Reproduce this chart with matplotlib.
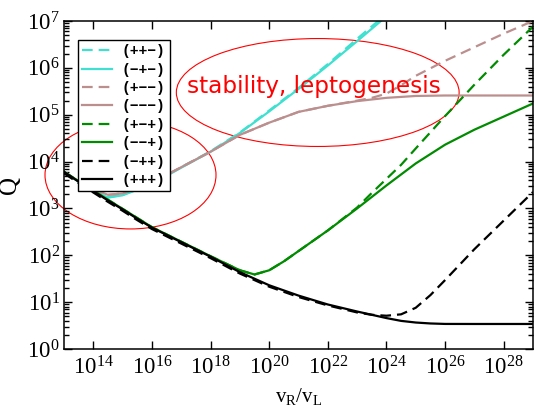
import numpy as np
import matplotlib
matplotlib.use("Agg")
import matplotlib.pyplot as plt
from matplotlib.patches import Ellipse
from matplotlib.ticker import FixedLocator, LogLocator, NullLocator, NullFormatter

plt.rcParams["font.family"] = ["Liberation Serif", "DejaVu Serif"]
plt.rcParams["mathtext.fontset"] = "custom"
plt.rcParams["mathtext.rm"] = "Liberation Serif"
plt.rcParams["mathtext.it"] = "Liberation Serif:italic"
plt.rcParams["mathtext.bf"] = "Liberation Serif:bold"

# log10(v_R / v_L) and log10(Q) for each sign combination
x_ppm = [13, 13.5, 14, 14.5, 15, 16, 17, 18, 19, 20, 21, 22, 23, 24]
q_ppm = [3.78, 3.57, 3.38, 3.24, 3.29, 3.53, 3.88, 4.22, 4.62, 5.09, 5.57, 6.08, 6.62, 7.15]

x_mpm = [13, 13.5, 14, 14.5, 15, 16, 17, 18, 19, 20, 21, 22, 23, 24]
q_mpm = [3.78, 3.57, 3.38, 3.23, 3.28, 3.52, 3.87, 4.21, 4.61, 5.07, 5.55, 6.05, 6.57, 7.1]

x_pmm = [13, 13.5, 14, 14.5, 15, 16, 17, 18, 19, 20, 21, 22, 23, 23.5, 24, 24.5, 25, 26, 27, 28, 29]
q_pmm = [3.78, 3.58, 3.41, 3.29, 3.32, 3.55, 3.88, 4.21, 4.57, 4.83, 5.06, 5.19, 5.30, 5.36, 5.45, 5.63, 5.83, 6.15, 6.44, 6.73, 7.0]

x_mmm = [13, 13.5, 14, 14.5, 15, 16, 17, 18, 19, 20, 21, 22, 23, 24, 25, 26, 27, 28, 29]
q_mmm = [3.78, 3.58, 3.41, 3.29, 3.32, 3.55, 3.88, 4.21, 4.57, 4.83, 5.06, 5.19, 5.29, 5.36, 5.40, 5.41, 5.41, 5.41, 5.41]

x_pmp = [13, 14, 15, 16, 17, 18, 18.5, 19, 19.5, 20, 20.5, 21, 22, 23, 23.5, 24, 24.5, 25, 26, 27, 28, 29]
q_pmp = [3.78, 3.38, 2.99, 2.60, 2.29, 1.98, 1.83, 1.68, 1.59, 1.68, 1.87, 2.09, 2.53, 3.02, 3.33, 3.63, 3.93, 4.28, 4.97, 5.64, 6.28, 6.88]

x_mmp = [13, 14, 15, 16, 17, 18, 18.5, 19, 19.5, 20, 20.5, 21, 22, 23, 24, 25, 26, 27, 28, 29]
q_mmp = [3.78, 3.38, 2.99, 2.60, 2.29, 1.98, 1.83, 1.68, 1.59, 1.68, 1.87, 2.09, 2.53, 3.0, 3.49, 3.96, 4.36, 4.68, 4.96, 5.24]

x_mpp = [13, 13.5, 14, 14.5, 15, 15.5, 16, 17, 18, 19, 20, 21, 22, 23, 23.5, 24, 24.5, 25, 25.5, 26, 26.5, 27, 28, 29]
q_mpp = [3.75, 3.54, 3.34, 3.14, 2.95, 2.75, 2.56, 2.25, 1.94, 1.61, 1.33, 1.11, 0.93, 0.78, 0.73, 0.71, 0.74, 0.88, 1.15, 1.47, 1.80, 2.13, 2.74, 3.35]

x_ppp = [13, 13.5, 14, 14.5, 15, 15.5, 16, 17, 18, 19, 20, 21, 22, 23, 24, 24.5, 25, 25.5, 26, 27, 28, 29]
q_ppp = [3.78, 3.57, 3.37, 3.17, 2.98, 2.78, 2.59, 2.28, 1.97, 1.64, 1.36, 1.14, 0.95, 0.80, 0.66, 0.60, 0.565, 0.545, 0.535, 0.534, 0.534, 0.534]

labels = ["(++\u2212)", "(\u2212+\u2212)", "(+\u2212\u2212)", "(\u2212\u2212\u2212)",
          "(+\u2212+)", "(\u2212\u2212+)", "(\u2212++)", "(+++)"]

turquoise = "#40E0D0"
rosy = "#BC8F8F"
green = "#008B00"
black = "#000000"

series = [
    (x_ppm, q_ppm, turquoise, True),
    (x_mpm, q_mpm, turquoise, False),
    (x_pmm, q_pmm, rosy, True),
    (x_mmm, q_mmm, rosy, False),
    (x_pmp, q_pmp, green, True),
    (x_mmp, q_mmp, green, False),
    (x_mpp, q_mpp, black, True),
    (x_ppp, q_ppp, black, False),
]

fig = plt.figure(figsize=(5.34, 4.08), dpi=100)
ax = fig.add_axes([64 / 534, 1 - 349 / 408, 469 / 534, 328 / 408])

for (xs, qs, col, dashed), lab in zip(series, labels):
    xv = 10.0 ** np.asarray(xs)
    qv = 10.0 ** np.asarray(qs)
    if dashed:
        ax.plot(xv, qv, color=col, lw=1.6, dashes=(4.8, 2.7), label=lab)
    else:
        ax.plot(xv, qv, color=col, lw=1.6, label=lab)

ax.set_xscale("log")
ax.set_yscale("log")
ax.set_xlim(1e13, 1e29)
ax.set_ylim(1e0, 1e7)

ax.xaxis.set_major_locator(FixedLocator([10.0 ** k for k in range(14, 29, 2)]))
ax.xaxis.set_minor_locator(NullLocator())
ax.yaxis.set_major_locator(FixedLocator([10.0 ** k for k in range(0, 8)]))
ax.yaxis.set_minor_locator(FixedLocator([m * 10.0 ** k for k in range(0, 7) for m in range(2, 10)]))
ax.yaxis.set_minor_formatter(NullFormatter())

ax.tick_params(which="both", direction="in", top=True, right=True, width=1.0)
ax.tick_params(which="major", length=6, labelsize=16.5)
ax.tick_params(axis="x", which="major", pad=5)
ax.tick_params(axis="y", which="major", pad=3)
ax.tick_params(which="minor", length=3.5)
for s in ax.spines.values():
    s.set_linewidth(1.1)

ax.set_ylabel("Q", fontsize=18, labelpad=4)
ax.set_xlabel(r"$\mathregular{v_R/v_L}$", fontsize=15, labelpad=5)

leg = ax.legend(loc="upper left", bbox_to_anchor=(14 / 469, 1 - 19 / 328),
                borderaxespad=0, frameon=True, fancybox=False, shadow=False,
                prop={"family": "Liberation Mono", "weight": "bold", "size": 10.5},
                handlelength=2.0, handletextpad=0.7, labelspacing=0.3,
                borderpad=0.3)
leg.get_frame().set_edgecolor("black")
leg.get_frame().set_linewidth(1.0)
leg.get_frame().set_alpha(1)

ax.add_patch(Ellipse((0.541, 0.782), 0.603, 0.329, transform=ax.transAxes,
                     fill=False, edgecolor="red", lw=0.8, clip_on=False))
ax.add_patch(Ellipse((0.1418, 0.5305), 0.3646, 0.329, transform=ax.transAxes,
                     fill=False, edgecolor="red", lw=0.8, clip_on=False))
ax.text(0.2623, 0.7814, "stability, leptogenesis", transform=ax.transAxes,
        color="red", fontsize=16.7, family="DejaVu Sans", va="baseline", ha="left")

fig.savefig("out.png", dpi=100)
